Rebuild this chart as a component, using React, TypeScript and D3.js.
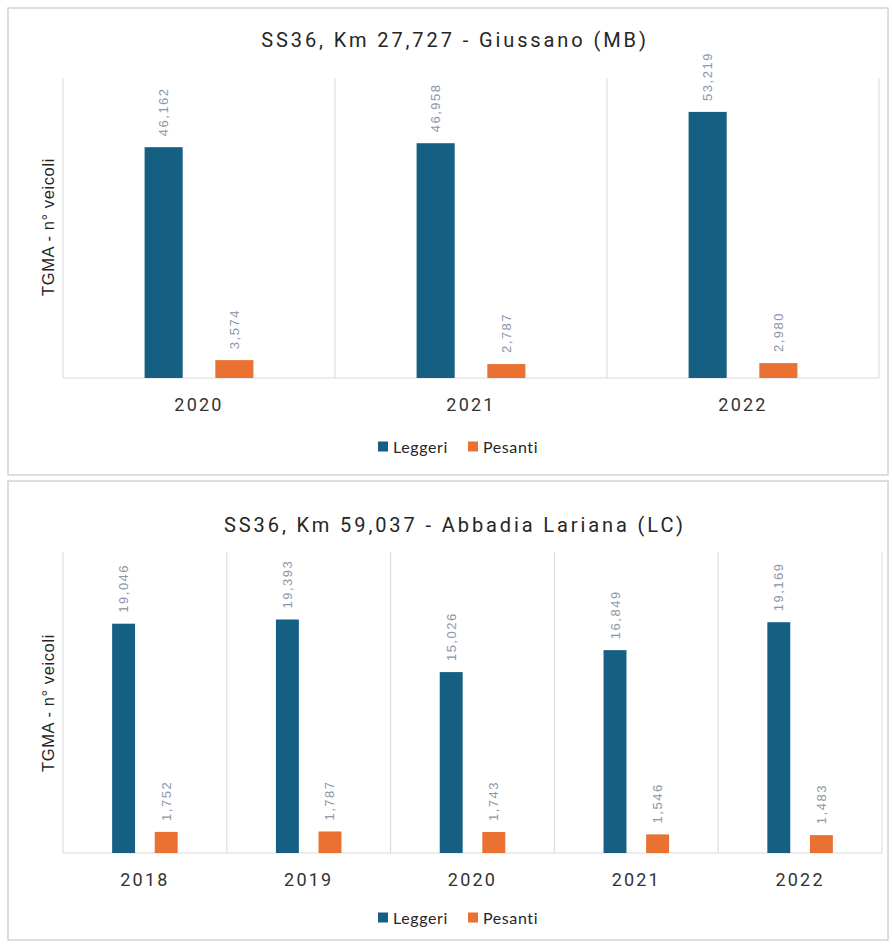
import React from "react";
import * as d3 from "d3";

const series = ["Leggeri", "Pesanti"];
const seriesColors = ["#156082", "#E97132"];

const title1 = "SS36, Km 27,727 - Giussano (MB)";
const years1 = ["2020", "2021", "2022"];
const leggeri1 = [46162, 46958, 53219];
const pesanti1 = [3574, 2787, 2980];
const yMax1 = 60000;

const title2 = "SS36, Km 59,037 - Abbadia Lariana (LC)";
const years2 = ["2018", "2019", "2020", "2021", "2022"];
const leggeri2 = [19046, 19393, 15026, 16849, 19169];
const pesanti2 = [1752, 1787, 1743, 1546, 1483];
const yMax2 = 25000;

const yLabel = "TGMA - n° veicoli";
const fmt = d3.format(",");

type PanelProps = {
  top: number;
  height: number;
  title: string;
  years: string[];
  values: number[][];
  yMax: number;
  plotTop: number;
  plotBottom: number;
  plotRight: number;
  titleY: number;
  yearY: number;
  legendY: number;
  yLabelY: number;
};

function Panel(p: PanelProps) {
  const plotLeft = 63;
  const x0 = d3.scaleBand<string>().domain(p.years).range([plotLeft, p.plotRight]).padding(0);
  const w = x0.bandwidth();
  const x1 = d3
    .scaleBand<string>()
    .domain(series)
    .range([0.24 * w, 0.76 * w])
    .paddingInner(0.4615)
    .paddingOuter(0.23075);
  const y = d3.scaleLinear().domain([0, p.yMax]).range([p.plotBottom, p.plotTop]);
  const bounds = [...p.years.map((yr) => x0(yr) as number), p.plotRight];
  const legendX = 378;
  return (
    <g>
      <rect x={8} y={p.top} width={880} height={p.height} fill="#fff" stroke="#d4d4d4" strokeWidth={1.5} />
      <text
        x={455}
        y={p.titleY}
        textAnchor="middle"
        fontFamily="Roboto"
        fontSize={20}
        letterSpacing={2.9}
        fill="#262626"
      >
        {p.title}
      </text>
      {bounds.map((bx, i) => (
        <line key={"g" + i} x1={bx} x2={bx} y1={p.plotTop} y2={p.plotBottom} stroke="#d9d9d9" strokeWidth={1} />
      ))}
      <line x1={plotLeft} x2={p.plotRight} y1={p.plotBottom} y2={p.plotBottom} stroke="#d9d9d9" strokeWidth={1.2} />
      {p.years.map((yr, i) => (
        <g key={yr} transform={`translate(${x0(yr)},0)`}>
          {series.map((s, j) => {
            const v = p.values[j][i];
            const bx = x1(s) as number;
            const bw = x1.bandwidth();
            const cx = bx + bw / 2;
            return (
              <g key={s}>
                <rect x={bx} y={y(v)} width={bw} height={p.plotBottom - y(v)} fill={seriesColors[j]} />
                <text
                  transform={`translate(${cx + 4.5},${y(v) - 11}) rotate(-90)`}
                  fontFamily="Liberation Sans"
                  fontSize={13}
                  letterSpacing={1.5}
                  fill="#8c96a8"
                >
                  {fmt(v)}
                </text>
              </g>
            );
          })}
          <text
            x={w / 2}
            y={p.yearY}
            textAnchor="middle"
            fontFamily="Roboto"
            fontSize={18}
            letterSpacing={2.2}
            fill="#333"
          >
            {yr}
          </text>
        </g>
      ))}
      <text
        transform={`translate(54,${p.yLabelY}) rotate(-90)`}
        textAnchor="middle"
        fontFamily="Liberation Sans"
        fontSize={16.5}
        letterSpacing={0.6}
        fill="#262626"
      >
        {yLabel}
      </text>
      {series.map((s, j) => (
        <g key={s} transform={`translate(${legendX + j * 90},${p.legendY})`}>
          <rect x={0} y={-5.5} width={10} height={10} fill={seriesColors[j]} />
          <text x={15} y={5.5} fontFamily="Lato" fontSize={16} letterSpacing={0.6} fill="#262626">
            {s}
          </text>
        </g>
      ))}
    </g>
  );
}

export default function App() {
  return (
    <svg width={892} height={944} style={{ position: "absolute", left: 0, top: 0 }}>
      <rect x={0} y={0} width={892} height={944} fill="#fff" />
      <Panel
        top={8}
        height={467}
        title={title1}
        years={years1}
        values={[leggeri1, pesanti1]}
        yMax={yMax1}
        plotTop={78}
        plotBottom={378}
        plotRight={879}
        titleY={47}
        yearY={411}
        legendY={447}
        yLabelY={227}
      />
      <Panel
        top={481}
        height={459}
        title={title2}
        years={years2}
        values={[leggeri2, pesanti2]}
        yMax={yMax2}
        plotTop={552}
        plotBottom={853}
        plotRight={882}
        titleY={532}
        yearY={886}
        legendY={918}
        yLabelY={703}
      />
    </svg>
  );
}
